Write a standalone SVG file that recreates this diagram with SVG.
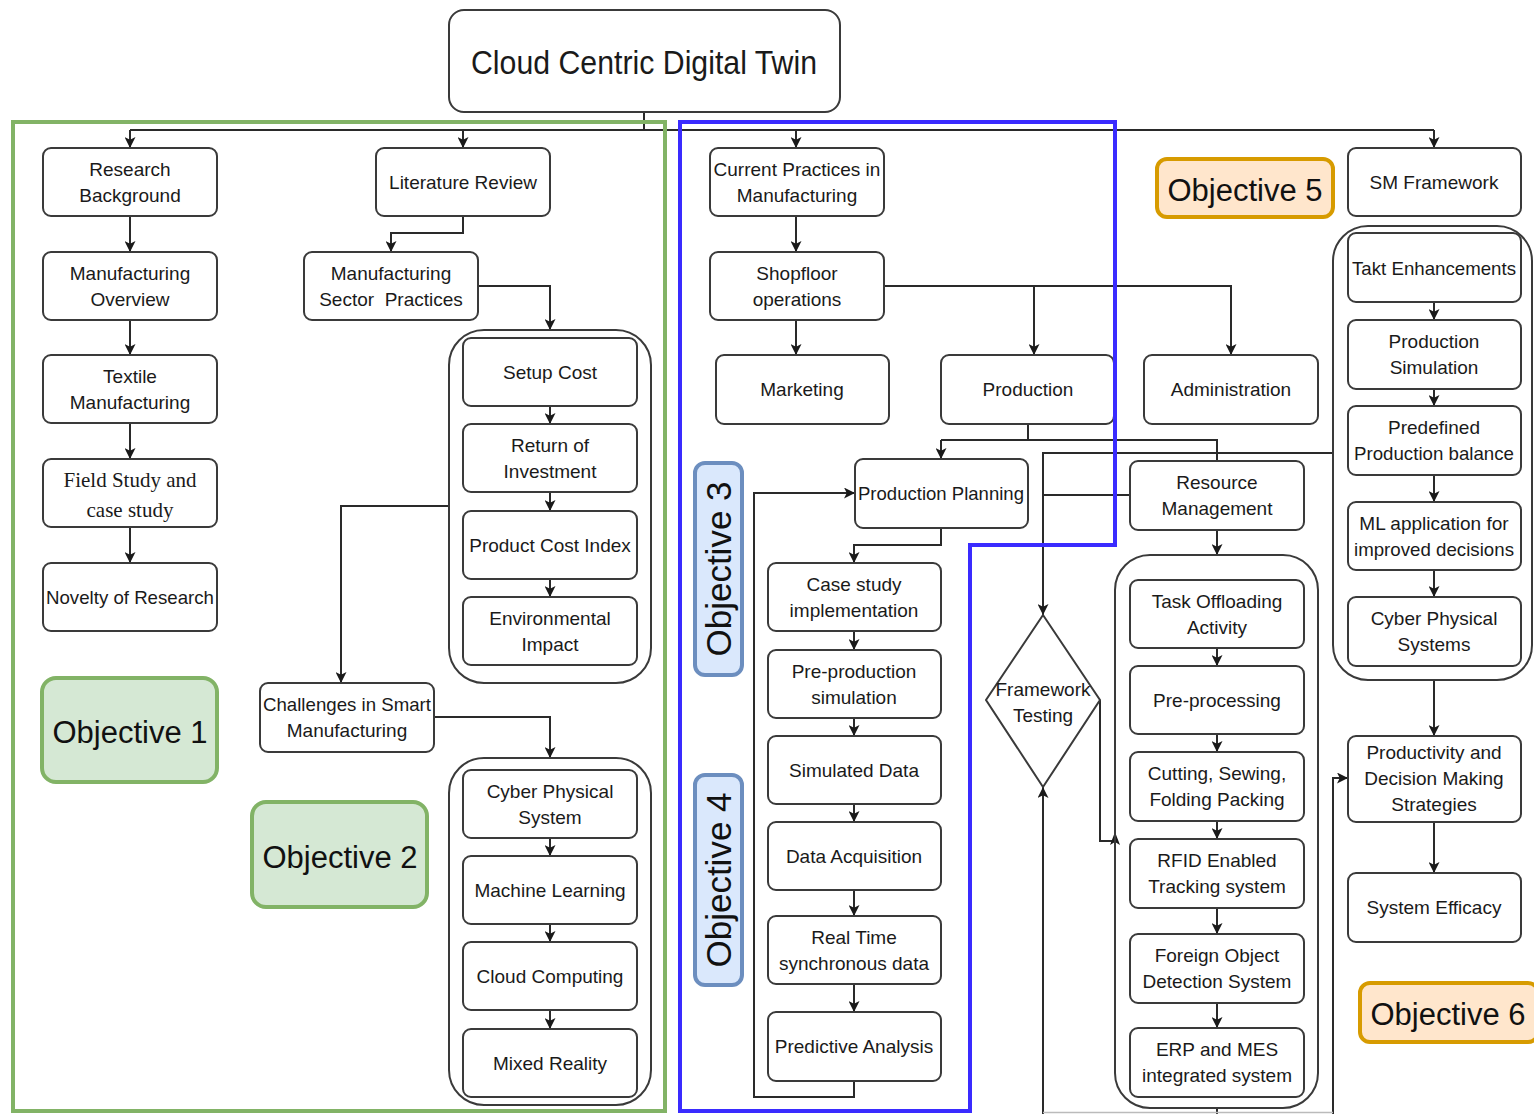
<svg xmlns="http://www.w3.org/2000/svg" width="1534" height="1114" viewBox="0 0 1534 1114">
<defs>
<marker id="arr" viewBox="0 0 10 10" refX="10" refY="5" markerWidth="11" markerHeight="11" markerUnits="userSpaceOnUse" orient="auto">
<path d="M0,0 L10,5 L0,10 L2.5,5 z" fill="#1a1a1a"/>
</marker>
<style>
.n{fill:#fff;stroke:#3a3a3a;stroke-width:2}
.c{fill:none;stroke:#3a3a3a;stroke-width:2}
.t{font-family:"Liberation Sans",Arial,sans-serif;font-size:19px;fill:#1a1a1a;text-anchor:middle}
.s{font-family:"Liberation Serif","Times New Roman",serif;font-size:21px;fill:#1a1a1a;text-anchor:middle}
.e{fill:none;stroke:#2a2a2a;stroke-width:2}
.a{marker-end:url(#arr)}
.og rect{fill:#d5e8d4;stroke:#82b366;stroke-width:4}
.ob rect{fill:#dae8fc;stroke:#6c8ebf;stroke-width:4}
.oo rect{fill:#ffe6cc;stroke:#d79b00;stroke-width:4}
.ot{font-family:"Liberation Sans",Arial,sans-serif;font-size:31px;fill:#111;text-anchor:middle}
</style>
</defs>
<rect width="1534" height="1114" fill="#fff"/>

<g id="connectors">
<path class="e" d="M644,112 V130 M130,130 H1434"/>
<path class="e a" d="M130,130 V148"/>
<path class="e a" d="M463,130 V148"/>
<path class="e a" d="M796,130 V148"/>
<path class="e a" d="M1434,130 V148"/>
<path class="e a" d="M130,216 V252"/>
<path class="e a" d="M130,320 V355"/>
<path class="e a" d="M130,423 V459"/>
<path class="e a" d="M130,527 V563"/>
<path class="e a" d="M463,216 V233 H391 V252"/>
<path class="e a" d="M478,286 H550 V330"/>
<path class="e a" d="M550,406 V424"/>
<path class="e a" d="M550,492 V511"/>
<path class="e a" d="M550,579 V597"/>
<path class="e a" d="M449,506 H341 V683"/>
<path class="e a" d="M434,717 H550 V758"/>
<path class="e a" d="M550,838 V856"/>
<path class="e a" d="M550,924 V942"/>
<path class="e a" d="M550,1010 V1029"/>
<path class="e a" d="M796,216 V252"/>
<path class="e a" d="M796,320 V355"/>
<path class="e a" d="M884,286 H1231 V355"/>
<path class="e a" d="M1034,286 V355"/>
<path class="e" d="M1028,424 V440 M941,440 H1217 V461"/>
<path class="e a" d="M941,440 V459"/>
<path class="e a" d="M1333,453 H1043 V615"/>
<path class="e" d="M1130,495 H1043"/>
<path class="e a" d="M941,528 V545 H854 V563"/>
<path class="e a" d="M854,631 V650"/>
<path class="e a" d="M854,718 V736"/>
<path class="e a" d="M854,804 V822"/>
<path class="e a" d="M854,890 V916"/>
<path class="e a" d="M854,984 V1012"/>
<path class="e a" d="M854,1081 V1097 H754 V493 H855"/>
<path class="e a" d="M1217,530 V555"/>
<path class="e a" d="M1217,648 V666"/>
<path class="e a" d="M1217,734 V752"/>
<path class="e a" d="M1217,821 V839"/>
<path class="e a" d="M1217,908 V934"/>
<path class="e a" d="M1217,1003 V1028"/>
<path class="e" d="M1217,1108 V1114"/>
<path class="e a" d="M1043,1114 V787"/>
<path class="e" d="M1100,700 V841 H1115"/>
<path d="M1110,845 L1115,832 L1120,845 L1115,842 z" fill="#1a1a1a"/>
<path class="e a" d="M1333,1114 V778 H1348"/>
<path class="e a" d="M1434,302 V320"/>
<path class="e a" d="M1434,389 V406"/>
<path class="e a" d="M1434,475 V502"/>
<path class="e a" d="M1434,570 V597"/>
<path class="e a" d="M1434,680 V736"/>
<path class="e a" d="M1434,822 V873"/>
<path d="M1043,1112.5 H1333" fill="none" stroke="#bbbbbb" stroke-width="1.5"/>
</g>

<g id="title"><rect class="n" x="449" y="10" width="391" height="102" rx="15"/><text class="t" x="644" y="74" font-size="33" style="font-size:33px" textLength="346" lengthAdjust="spacingAndGlyphs">Cloud Centric Digital Twin</text></g>

<g id="research-background"><rect class="n" x="43" y="148" width="174" height="68" rx="8"/><text class="t" x="130" y="176">Research</text><text class="t" x="130" y="202">Background</text></g>
<g id="manufacturing-overview"><rect class="n" x="43" y="252" width="174" height="68" rx="8"/><text class="t" x="130" y="280">Manufacturing</text><text class="t" x="130" y="306">Overview</text></g>
<g id="textile-manufacturing"><rect class="n" x="43" y="355" width="174" height="68" rx="8"/><text class="t" x="130" y="383">Textile</text><text class="t" x="130" y="409">Manufacturing</text></g>
<g id="field-study"><rect class="n" x="43" y="459" width="174" height="68" rx="8"/><text class="s" x="130" y="487">Field Study and</text><text class="s" x="130" y="517">case study</text></g>
<g id="novelty"><rect class="n" x="43" y="563" width="174" height="68" rx="8"/><text class="t" x="130" y="604" textLength="168" lengthAdjust="spacingAndGlyphs">Novelty of Research</text></g>

<g id="literature-review"><rect class="n" x="376" y="148" width="174" height="68" rx="8"/><text class="t" x="463" y="189">Literature Review</text></g>
<g id="sector-practices"><rect class="n" x="304" y="252" width="174" height="68" rx="8"/><text class="t" x="391" y="280">Manufacturing</text><text class="t" x="391" y="306" style="white-space:pre">Sector  Practices</text></g>

<g id="cost-group">
<rect class="c" x="449" y="330" width="202" height="353" rx="35"/>
<g id="setup-cost"><rect class="n" x="463" y="338" width="174" height="68" rx="8"/><text class="t" x="550" y="379">Setup Cost</text></g>
<g id="roi"><rect class="n" x="463" y="424" width="174" height="68" rx="8"/><text class="t" x="550" y="452">Return of</text><text class="t" x="550" y="478">Investment</text></g>
<g id="product-cost-index"><rect class="n" x="463" y="511" width="174" height="68" rx="8"/><text class="t" x="550" y="552">Product Cost Index</text></g>
<g id="environmental-impact"><rect class="n" x="463" y="597" width="174" height="68" rx="8"/><text class="t" x="550" y="625">Environmental</text><text class="t" x="550" y="651">Impact</text></g>
</g>

<g id="challenges"><rect class="n" x="260" y="683" width="174" height="69" rx="8"/><text class="t" x="347" y="711" textLength="168" lengthAdjust="spacingAndGlyphs">Challenges in Smart</text><text class="t" x="347" y="737">Manufacturing</text></g>

<g id="tech-group">
<rect class="c" x="449" y="758" width="202" height="347" rx="35"/>
<g id="cyber-physical-system"><rect class="n" x="463" y="770" width="174" height="68" rx="8"/><text class="t" x="550" y="798">Cyber Physical</text><text class="t" x="550" y="824">System</text></g>
<g id="machine-learning"><rect class="n" x="463" y="856" width="174" height="68" rx="8"/><text class="t" x="550" y="897">Machine Learning</text></g>
<g id="cloud-computing"><rect class="n" x="463" y="942" width="174" height="68" rx="8"/><text class="t" x="550" y="983">Cloud Computing</text></g>
<g id="mixed-reality"><rect class="n" x="463" y="1029" width="174" height="68" rx="8"/><text class="t" x="550" y="1070">Mixed Reality</text></g>
</g>

<g id="current-practices"><rect class="n" x="710" y="148" width="174" height="68" rx="8"/><text class="t" x="797" y="176">Current Practices in</text><text class="t" x="797" y="202">Manufacturing</text></g>
<g id="shopfloor"><rect class="n" x="710" y="252" width="174" height="68" rx="8"/><text class="t" x="797" y="280">Shopfloor</text><text class="t" x="797" y="306">operations</text></g>
<g id="marketing"><rect class="n" x="716" y="355" width="173" height="69" rx="8"/><text class="t" x="802" y="396">Marketing</text></g>
<g id="production"><rect class="n" x="941" y="355" width="173" height="69" rx="8"/><text class="t" x="1028" y="396">Production</text></g>
<g id="administration"><rect class="n" x="1144" y="355" width="174" height="69" rx="8"/><text class="t" x="1231" y="396">Administration</text></g>
<g id="production-planning"><rect class="n" x="855" y="459" width="173" height="69" rx="8"/><text class="t" x="941" y="500" textLength="166" lengthAdjust="spacingAndGlyphs">Production Planning</text></g>
<g id="resource-management"><rect class="n" x="1130" y="461" width="174" height="69" rx="8"/><text class="t" x="1217" y="489">Resource</text><text class="t" x="1217" y="515">Management</text></g>

<g id="case-study"><rect class="n" x="768" y="563" width="173" height="68" rx="8"/><text class="t" x="854" y="591">Case study</text><text class="t" x="854" y="617">implementation</text></g>
<g id="pre-production"><rect class="n" x="768" y="650" width="173" height="68" rx="8"/><text class="t" x="854" y="678">Pre-production</text><text class="t" x="854" y="704">simulation</text></g>
<g id="simulated-data"><rect class="n" x="768" y="736" width="173" height="68" rx="8"/><text class="t" x="854" y="777">Simulated Data</text></g>
<g id="data-acquisition"><rect class="n" x="768" y="822" width="173" height="68" rx="8"/><text class="t" x="854" y="863">Data Acquisition</text></g>
<g id="real-time"><rect class="n" x="768" y="916" width="173" height="68" rx="8"/><text class="t" x="854" y="944">Real Time</text><text class="t" x="854" y="970">synchronous data</text></g>
<g id="predictive-analysis"><rect class="n" x="768" y="1012" width="173" height="69" rx="8"/><text class="t" x="854" y="1053">Predictive Analysis</text></g>

<g id="framework-testing"><polygon class="n" points="1043,615 1100,700 1043,787 986,700"/><text class="t" x="1043" y="696">Framework</text><text class="t" x="1043" y="722">Testing</text></g>

<g id="ops-group">
<rect class="c" x="1115" y="555" width="203" height="553" rx="35"/>
<g id="task-offloading"><rect class="n" x="1130" y="580" width="174" height="68" rx="8"/><text class="t" x="1217" y="608">Task Offloading</text><text class="t" x="1217" y="634">Activity</text></g>
<g id="pre-processing"><rect class="n" x="1130" y="666" width="174" height="68" rx="8"/><text class="t" x="1217" y="707">Pre-processing</text></g>
<g id="cutting"><rect class="n" x="1130" y="752" width="174" height="69" rx="8"/><text class="t" x="1217" y="780">Cutting, Sewing,</text><text class="t" x="1217" y="806">Folding Packing</text></g>
<g id="rfid"><rect class="n" x="1130" y="839" width="174" height="69" rx="8"/><text class="t" x="1217" y="867">RFID Enabled</text><text class="t" x="1217" y="893">Tracking system</text></g>
<g id="foreign-object"><rect class="n" x="1130" y="934" width="174" height="69" rx="8"/><text class="t" x="1217" y="962">Foreign Object</text><text class="t" x="1217" y="988">Detection System</text></g>
<g id="erp-mes"><rect class="n" x="1130" y="1028" width="174" height="69" rx="8"/><text class="t" x="1217" y="1056">ERP and MES</text><text class="t" x="1217" y="1082">integrated system</text></g>
</g>

<g id="sm-framework"><rect class="n" x="1348" y="148" width="173" height="68" rx="8"/><text class="t" x="1434" y="189">SM Framework</text></g>
<g id="sm-group">
<rect class="c" x="1333" y="226" width="199" height="454" rx="35"/>
<g id="takt"><rect class="n" x="1348" y="233" width="173" height="69" rx="8"/><text class="t" x="1434" y="275" textLength="164" lengthAdjust="spacingAndGlyphs">Takt Enhancements</text></g>
<g id="production-simulation"><rect class="n" x="1348" y="320" width="173" height="69" rx="8"/><text class="t" x="1434" y="348">Production</text><text class="t" x="1434" y="374">Simulation</text></g>
<g id="predefined"><rect class="n" x="1348" y="406" width="173" height="69" rx="8"/><text class="t" x="1434" y="434">Predefined</text><text class="t" x="1434" y="460" textLength="160" lengthAdjust="spacingAndGlyphs">Production balance</text></g>
<g id="ml-application"><rect class="n" x="1348" y="502" width="173" height="68" rx="8"/><text class="t" x="1434" y="530">ML application for</text><text class="t" x="1434" y="556" textLength="160" lengthAdjust="spacingAndGlyphs">improved decisions</text></g>
<g id="cyber-physical-systems"><rect class="n" x="1348" y="597" width="173" height="69" rx="8"/><text class="t" x="1434" y="625">Cyber Physical</text><text class="t" x="1434" y="651">Systems</text></g>
</g>
<g id="productivity"><rect class="n" x="1348" y="736" width="173" height="86" rx="8"/><text class="t" x="1434" y="759">Productivity and</text><text class="t" x="1434" y="785">Decision Making</text><text class="t" x="1434" y="811">Strategies</text></g>
<g id="system-efficacy"><rect class="n" x="1348" y="873" width="173" height="69" rx="8"/><text class="t" x="1434" y="914">System Efficacy</text></g>

<g id="objective-1" class="og"><rect x="42" y="678" width="175" height="104" rx="14"/><text class="ot" x="130" y="743">Objective 1</text></g>
<g id="objective-2" class="og"><rect x="252" y="802" width="175" height="105" rx="14"/><text class="ot" x="340" y="868">Objective 2</text></g>
<g id="objective-3" class="ob"><rect x="695" y="463" width="47" height="212" rx="10"/><text class="ot" transform="translate(719,569) rotate(-90)" x="0" y="12" style="font-size:35px">Objective 3</text></g>
<g id="objective-4" class="ob"><rect x="695" y="775" width="47" height="210" rx="10"/><text class="ot" transform="translate(719,880) rotate(-90)" x="0" y="12" style="font-size:35px">Objective 4</text></g>
<g id="objective-5" class="oo"><rect x="1157" y="159" width="176" height="58" rx="10"/><text class="ot" x="1245" y="201">Objective 5</text></g>
<g id="objective-6" class="oo"><rect x="1360" y="983" width="178" height="59" rx="10"/><text class="ot" x="1448" y="1025">Objective 6</text></g>

<g id="frames">
<rect x="13" y="122" width="652" height="989" fill="none" stroke="#82b366" stroke-width="4"/>
<path d="M680,122 H1115 V545 H970 V1111 H680 Z" fill="none" stroke="#3a2bff" stroke-width="4"/>
</g>
</svg>
